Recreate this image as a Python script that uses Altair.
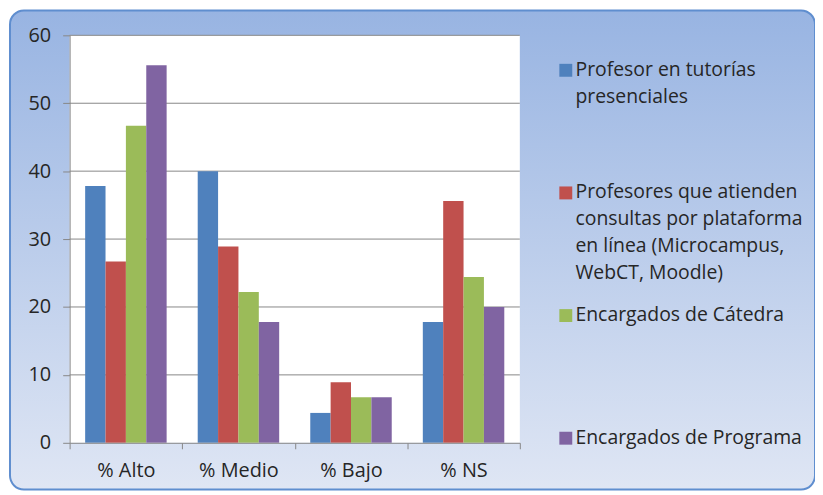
import altair as alt
import pandas as pd

# ---- data ----
categories = ["% Alto", "% Medio", "% Bajo", "% NS"]
series = [
    "Profesor en tutorías\npresenciales",
    "Profesores que atienden\nconsultas por plataforma\nen línea (Microcampus,\nWebCT, Moodle)",
    "Encargados de Cátedra",
    "Encargados de Programa",
]
profesor_tutorias = [37.8, 40.0, 4.4, 17.8]
profesores_plataforma = [26.7, 28.9, 8.9, 35.6]
encargados_catedra = [46.7, 22.2, 6.7, 24.4]
encargados_programa = [55.6, 17.8, 6.7, 20.0]
y_ticks = [0, 10, 20, 30, 40, 50, 60]
colors = ["#4F81BD", "#C0504D", "#9BBB59", "#8064A2"]

values_by_series = [profesor_tutorias, profesores_plataforma, encargados_catedra, encargados_programa]
rows = []
for s, vals in zip(series, values_by_series):
    for c, v in zip(categories, vals):
        rows.append({"categoria": c, "serie": s, "valor": v})
df = pd.DataFrame(rows)
grid_df = pd.DataFrame({"v": y_ticks[1:]})

W, H = 453, 410
FONT = "Open Sans"
TXT = "#262626"
GRAY = "#878787"

bg = alt.Chart(alt.Data(values=[{"a": 1}])).mark_rect(
    fill=alt.Gradient(
        gradient="linear", x1=0, y1=0, x2=0, y2=1,
        stops=[alt.GradientStop(offset=0, color="#98b4e2"),
               alt.GradientStop(offset=1, color="#dfe6f4")],
    ),
    stroke="#5f8ecf", strokeWidth=2, cornerRadius=14,
).encode(
    x=alt.value(-60), x2=alt.value(W + 297), y=alt.value(-25), y2=alt.value(H + 47)
)

plot_bg = alt.Chart(alt.Data(values=[{"a": 1}])).mark_rect(fill="white").encode(
    x=alt.value(0), x2=alt.value(W), y=alt.value(0), y2=alt.value(H)
)

y_scale = alt.Scale(domain=[0, 60], nice=False, zero=True)
y_axis = alt.Axis(
    values=y_ticks, labelFont=FONT, labelFontSize=20, labelColor=TXT,
    domainColor=GRAY, tickColor=GRAY, tickSize=7, labelPadding=12,
    grid=False, zindex=1,
)

grid = alt.Chart(grid_df).mark_rule(color=GRAY, strokeWidth=1).encode(
    y=alt.Y("v:Q", scale=y_scale, axis=y_axis, title=None)
)

bars = alt.Chart(df).mark_bar().encode(
    x=alt.X(
        "categoria:N", sort=categories, title=None,
        scale=alt.Scale(paddingInner=0, paddingOuter=0),
        axis=alt.Axis(
            labelAngle=0, labelFont=FONT, labelFontSize=20, labelColor=TXT,
            domainColor=GRAY, tickColor=GRAY, tickSize=6, labelPadding=12,
            tickBand="extent", grid=False, zindex=1,
        ),
    ),
    xOffset=alt.XOffset("serie:N", sort=series,
                        scale=alt.Scale(paddingInner=0, paddingOuter=0.763)),
    y=alt.Y("valor:Q", scale=y_scale, title=None, axis=y_axis),
    color=alt.Color(
        "serie:N", sort=series,
        scale=alt.Scale(domain=series, range=colors),
        legend=alt.Legend(
            title=None, orient="none", legendX=489.5, legendY=16, padding=0,
            direction="vertical", gridAlign="all", rowPadding=13.4,
            labelFont=FONT, labelFontSize=19.5, labelColor=TXT, labelLimit=400,
            labelBaseline="top", labelOffset=0,
            labelExpr="split(datum.label, '\\n')",
            symbolType="M-1,0.45H1V2.45H-1Z", symbolSize=169,
            symbolStrokeWidth=0, symbolOpacity=1,
        ),
    ),
)

chart = alt.layer(bg, plot_bg, grid, bars).properties(
    width=W, height=H,
    autosize=alt.AutoSizeParams(type="none"),
    padding={"left": 62, "top": 26, "right": 297, "bottom": 47},
).configure(
    style={"guide-label": {"lineHeight": 27}}
).configure_view(strokeWidth=0)

chart.save("out.html", embed_options={"renderer": "svg", "actions": False})
